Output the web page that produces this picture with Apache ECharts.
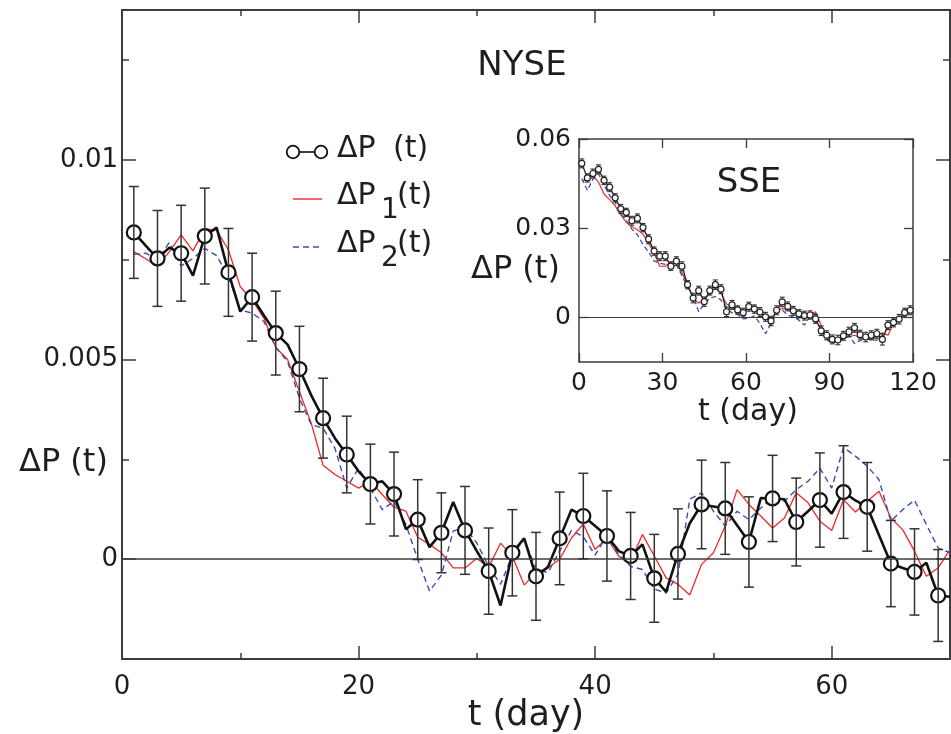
<!DOCTYPE html>
<html><head><meta charset="utf-8">
<script src="https://cdn.jsdelivr.net/npm/echarts@6/dist/echarts.min.js"></script>
<style>html,body{margin:0;padding:0;background:#fff}#c{width:951px;height:734px}</style>
</head><body><div id="c"></div>
<script>
// ---------------- NYSE (main panel) ----------------
const nyseDays = [1,2,3,4,5,6,7,8,9,10,11,12,13,14,15,16,17,18,19,20,21,22,23,24,25,26,27,28,29,30,31,32,33,34,35,36,37,38,39,40,41,42,43,44,45,46,47,48,49,50,51,52,53,54,55,56,57,58,59,60,61,62,63,64,65,66,67,68,69,70];
const nyseDP = [0.00818,0.00785,0.00753,0.0078,0.00766,0.0071,0.00809,0.0083,0.00718,0.0062,
  0.00656,0.0061,0.00566,0.00537,0.00476,0.0041,0.00353,0.00303,0.00262,0.0022,
  0.00188,0.00195,0.00163,0.00075,0.00099,0.0003,0.00066,0.00143,0.00072,0.0002,
  -0.0003,-0.00116,0.00016,0.00052,-0.00043,-0.0002,0.00052,0.00124,0.00108,0.00083,
  0.00058,0.0002,0.00008,0.00037,-0.00048,-0.00082,0.00013,0.0009,0.00137,0.00132,
  0.00127,0.00085,0.00043,0.00153,0.00152,0.0015,0.00093,0.0012,0.00148,0.00114,
  0.00168,0.00147,0.00131,0.0006,-0.00011,-0.00022,-0.00032,-0.00009,-0.00091,-0.00094];
const nyseDP1 = [0.0077,0.00752,0.00733,0.0077,0.00812,0.00772,0.00827,0.00824,0.00774,0.00682,
  0.00649,0.00603,0.0053,0.005,0.0042,0.0034,0.00235,0.00212,0.00195,0.00178,
  0.00195,0.00162,0.0013,0.0012,0.00055,0.00037,0.00016,-0.00022,-0.00022,0.00002,
  -0.0002,0.0004,0.00007,-0.00065,-0.00033,-0.00022,0,0.00053,0.00088,0.00024,
  0.00053,0.00007,-0.00005,0.00062,0.00008,-0.00047,-0.00063,-0.0009,-0.00013,0.00016,
  0.00083,0.00174,0.00137,0.00108,0.00078,0.00103,0.00166,0.00141,0.00095,0.00072,
  0.00149,0.00118,0.00145,0.0017,0.00103,0.00074,0.0002,-0.00043,-0.00022,0.00024];
const nyseDP2 = [0.00763,0.00766,0.0075,0.00793,0.00734,0.00753,0.00778,0.0076,0.00707,0.00624,
  0.00616,0.00595,0.0053,0.00495,0.00403,0.00337,0.00328,0.00278,0.00178,0.00228,
  0.00178,0.00124,0.00145,0.00087,0,-0.0008,-0.0004,0.0007,0.0008,0.0004,
  -0.00018,-0.00063,0.0001,0.0005,-0.00025,-0.00034,0.0002,0.00072,0.00056,0.0001,
  0.0006,0.0001,-0.00018,-0.00026,-0.00075,-0.00085,-0.00038,0.0015,0.00166,0.0012,
  0.00083,0.0012,0.00099,0.00128,0.00153,0.00145,0.00174,0.00195,0.00228,0.00178,
  0.0028,0.00258,0.00233,0.00199,0.00095,0.00124,0.00148,0.00087,0.00028,0.00016];
const nyseMarkDays = [1,3,5,7,9,11,13,15,17,19,21,23,25,27,29,31,33,35,37,39,41,43,45,47,49,51,53,55,57,59,61,63,65,67,69];
const nyseErr = [0.00115,0.0012,0.0012,0.0012,0.0011,0.0011,0.00105,0.00107,0.001,0.00096,
  0.001,0.00105,0.001,0.001,0.0011,0.00108,0.00108,0.0011,0.00116,0.00107,
  0.00113,0.00109,0.0011,0.00113,0.00111,0.00115,0.00113,0.00108,0.0011,0.00118,
  0.00116,0.00111,0.00108,0.00108,0.00115];
const nyseXTicks = [0,20,40,60];
const nyseXMinor = [10,30,50,70];
const nyseYTicks = [0,0.005,0.01];
const nyseYMinor = [0.0025,0.0075,0.0125];

// ---------------- SSE (inset) ----------------
const sseDays = [1,3,5,7,9,11,13,15,17,19,21,23,25,27,29,31,33,35,37,39,41,43,45,47,49,51,53,55,57,59,61,63,65,67,69,71,73,75,77,79,81,83,85,87,89,91,93,95,97,99,101,103,105,107,109,111,113,115,117,119];
const sseDP = [0.0518,0.0469,0.0484,0.0498,0.0461,0.0438,0.0402,0.0365,0.0353,0.0325,
  0.0333,0.0302,0.0263,0.0223,0.0206,0.0206,0.0172,0.0189,0.0172,0.011,
  0.0065,0.009,0.0053,0.009,0.011,0.0095,0.0019,0.0042,0.0025,0.0016,
  0.0036,0.0028,0.0018,0.0002,-0.0012,0.0024,0.0052,0.0037,0.0022,0.0012,
  0.0006,0.0008,-0.0005,-0.0045,-0.006,-0.0074,-0.0076,-0.0062,-0.0049,-0.0035,
  -0.0058,-0.0066,-0.006,-0.0055,-0.0074,-0.0026,-0.0017,-0.0006,0.0016,0.0024];
const sseDP1 = [0.046,0.0462,0.0476,0.0455,0.0415,0.0396,0.0375,0.0345,0.032,0.0305,
  0.0295,0.028,0.025,0.0215,0.0172,0.0172,0.0188,0.0185,0.015,0.011,
  0.0065,0.0048,0.006,0.0085,0.0099,0.0082,0.0045,0.0035,0.002,0.0019,
  0.003,0.0025,0.0018,-0.0005,-0.0012,0.0022,0.003,0.0025,0.0018,0.0008,
  0.0004,0.0012,0.0019,-0.0026,-0.0062,-0.0078,-0.0082,-0.0071,-0.0065,-0.006,
  -0.0068,-0.0072,-0.0076,-0.0062,-0.0052,-0.006,-0.002,-0.001,0.0018,0.0035];
const sseDP2 = [0.0467,0.0427,0.0465,0.0483,0.0445,0.041,0.0387,0.035,0.0325,0.0297,
  0.0278,0.0245,0.022,0.019,0.0182,0.0178,0.0175,0.0178,0.014,0.0102,
  0.0075,0.0019,0.0045,0.0065,0.007,0.0059,0.0031,0.0015,0.001,-0.0005,
  -0.0003,0.0005,-0.002,-0.0055,-0.002,0.0014,0.0025,0.0008,0.0002,-0.0009,
  -0.0026,0.0005,0.0014,-0.0045,-0.0075,-0.0088,-0.0077,-0.0072,-0.006,-0.0088,
  -0.0078,-0.0071,-0.0075,-0.0077,-0.006,-0.0035,-0.0015,-0.0008,0.0005,0.0025];
const sseErr = [0.0015,0.0014,0.0015,0.0015,0.0014,0.0015,0.0014,0.0015,0.0014,0.0015,
  0.0015,0.0014,0.0015,0.0014,0.0015,0.0015,0.0014,0.0015,0.0015,0.0014,
  0.0016,0.0015,0.0016,0.0015,0.0016,0.0015,0.0016,0.0015,0.0014,0.0015,
  0.0015,0.0014,0.0015,0.0015,0.0016,0.0015,0.0016,0.0015,0.0015,0.0014,
  0.0015,0.0014,0.0015,0.0016,0.0015,0.0015,0.0016,0.0015,0.0016,0.0015,
  0.0015,0.0016,0.0015,0.0015,0.0019,0.0015,0.0015,0.0016,0.0015,0.0015];
const sseXTicks = [0,30,60,90,120];
const sseYTicks = [0,0.03,0.06];

// ---------------- helpers ----------------
const FONT = 'DejaVu Sans';
const TXT = '#1e1e1e';
const FRAME = '#3c3c3c';
const zip = (xs, ys) => xs.map((x, i) => [x, ys[i]]);
const pick = (days, vals, sel) => sel.map(d => [d, vals[days.indexOf(d)]]);
const errData = (days, vals, sel, err) => sel.map((d, i) => {
  const v = vals[days.indexOf(d)];
  return [d, v - err[i], v + err[i]];
});

function errRender(cap, width) {
  return function (params, api) {
    const x = api.value(0);
    const lo = api.coord([x, api.value(1)]);
    const hi = api.coord([x, api.value(2)]);
    const st = { stroke: '#333', lineWidth: width };
    return { type: 'group', children: [
      { type: 'line', shape: { x1: hi[0], y1: hi[1], x2: lo[0], y2: lo[1] }, style: st },
      { type: 'line', shape: { x1: hi[0] - cap, y1: hi[1], x2: hi[0] + cap, y2: hi[1] }, style: st },
      { type: 'line', shape: { x1: lo[0] - cap, y1: lo[1], x2: lo[0] + cap, y2: lo[1] }, style: st }
    ]};
  };
}

function frameAxis(o) {
  return {
    type: 'value', gridIndex: o.grid, position: o.pos, min: o.min, max: o.max,
    silent: true,
    axisLine: { show: o.line !== false, onZero: false, lineStyle: { color: FRAME, width: o.lw || 2 } },
    axisTick: { show: true, inside: true, length: o.tickLen, customValues: o.ticks,
      lineStyle: { color: FRAME, width: o.tw || 1.5 } },
    axisLabel: o.labels ? { show: true, customValues: o.labels, fontSize: o.fs || 26, fontFamily: FONT,
      color: TXT, margin: o.margin } : { show: false },
    splitLine: { show: false }
  };
}

const xAxes = [
  frameAxis({grid:0,pos:'bottom',min:0,max:70,ticks:nyseXTicks,tickLen:13,labels:nyseXTicks,margin:15,fs:26}),
  frameAxis({grid:0,pos:'bottom',min:0,max:70,ticks:nyseXMinor,tickLen:6,line:false}),
  frameAxis({grid:0,pos:'top',min:0,max:70,ticks:nyseXTicks,tickLen:13}),
  frameAxis({grid:0,pos:'top',min:0,max:70,ticks:nyseXMinor,tickLen:6,line:false}),
  frameAxis({grid:1,pos:'bottom',min:0,max:120,ticks:sseXTicks,tickLen:9,labels:sseXTicks,margin:9,lw:1.5,tw:1.3,fs:25}),
  frameAxis({grid:1,pos:'top',min:0,max:120,ticks:sseXTicks,tickLen:9,lw:1.5,tw:1.3})
];
const yAxes = [
  frameAxis({grid:0,pos:'left',min:-0.0025,max:0.01375,ticks:nyseYTicks,tickLen:14,labels:nyseYTicks,margin:4,fs:26}),
  frameAxis({grid:0,pos:'left',min:-0.0025,max:0.01375,ticks:nyseYMinor,tickLen:7,line:false}),
  frameAxis({grid:0,pos:'right',min:-0.0025,max:0.01375,ticks:nyseYTicks,tickLen:14}),
  frameAxis({grid:0,pos:'right',min:-0.0025,max:0.01375,ticks:nyseYMinor,tickLen:7,line:false}),
  frameAxis({grid:1,pos:'left',min:-0.015,max:0.06,ticks:sseYTicks,tickLen:9,labels:sseYTicks,margin:8,lw:1.5,tw:1.3,fs:25}),
  frameAxis({grid:1,pos:'right',min:-0.015,max:0.06,ticks:sseYTicks,tickLen:9,lw:1.5,tw:1.3})
];

const zeroLine = (xi, yi, w) => ({
  type: 'line', xAxisIndex: xi, yAxisIndex: yi, data: [], z: 6, silent: true,
  markLine: { silent: true, symbol: ['none', 'none'], label: { show: false },
    lineStyle: { color: FRAME, width: w, type: 'solid' }, data: [{ yAxis: 0 }] }
});

const series = [
  // main
  { type:'line', xAxisIndex:0, yAxisIndex:0, data: zip(nyseDays, nyseDP1), symbol:'none', z:2,
    lineStyle:{ color:'#f02a2a', width:1.3 } },
  { type:'line', xAxisIndex:0, yAxisIndex:0, data: zip(nyseDays, nyseDP2), symbol:'none', z:2,
    lineStyle:{ color:'#3a4db0', width:1.4, type:[6,4] } },
  { type:'line', xAxisIndex:0, yAxisIndex:0, data: zip(nyseDays, nyseDP), symbol:'none', z:3,
    lineStyle:{ color:'#111', width:2.6 } },
  { type:'scatter', xAxisIndex:0, yAxisIndex:0, data: pick(nyseDays, nyseDP, nyseMarkDays), z:4,
    symbol:'circle', symbolSize:14, itemStyle:{ color:'#fff', borderColor:'#111', borderWidth:2.2, opacity:1 } },
  { type:'custom', xAxisIndex:0, yAxisIndex:0, data: errData(nyseDays, nyseDP, nyseMarkDays, nyseErr), z:5,
    renderItem: errRender(5, 1.5), encode:{ x:0, y:[1,2] } },
  zeroLine(0, 0, 1.6),
  // inset
  { type:'line', xAxisIndex:4, yAxisIndex:4, data: zip(sseDays, sseDP1), symbol:'none', z:2,
    lineStyle:{ color:'#f02a2a', width:1.2 } },
  { type:'line', xAxisIndex:4, yAxisIndex:4, data: zip(sseDays, sseDP2), symbol:'none', z:2,
    lineStyle:{ color:'#3a4db0', width:1.3, type:[5,3] } },
  { type:'line', xAxisIndex:4, yAxisIndex:4, data: zip(sseDays, sseDP), symbol:'none', z:3,
    lineStyle:{ color:'#222', width:1.3 } },
  { type:'custom', xAxisIndex:4, yAxisIndex:4, data: errData(sseDays, sseDP, sseDays, sseErr), z:4,
    renderItem: errRender(2.5, 1.1), encode:{ x:0, y:[1,2] } },
  { type:'scatter', xAxisIndex:4, yAxisIndex:4, data: zip(sseDays, sseDP), z:5,
    symbol:'circle', symbolSize:6, itemStyle:{ color:'#fff', borderColor:'#222', borderWidth:1.2, opacity:1 } },
  zeroLine(4, 4, 1.2)
];

const txt = (text, x, y, size, align) => ({
  type:'text', x:x, y:y, z:100, silent:true,
  style:{ text:text, fontSize:size, fontFamily:FONT, fill:TXT,
    textAlign: align || 'left', textVerticalAlign:'middle' }
});

const graphic = [
  txt('NYSE', 522, 66, 34, 'center'),
  txt('SSE', 749, 183, 34, 'center'),
  txt('t (day)', 526, 716, 35, 'center'),
  txt('ΔP (t)', 19, 463, 32, 'left'),
  txt('t (day)', 748, 412, 30, 'center'),
  txt('ΔP (t)', 471, 270, 32, 'left'),
  // legend row 1
  { type:'line', z:100, silent:true, shape:{ x1:293, y1:152, x2:321, y2:152 }, style:{ stroke:'#111', lineWidth:1.6 } },
  { type:'circle', z:101, silent:true, shape:{ cx:293, cy:152, r:6.3 }, style:{ stroke:'#111', fill:'#fff', lineWidth:1.8 } },
  { type:'circle', z:101, silent:true, shape:{ cx:321, cy:152, r:6.3 }, style:{ stroke:'#111', fill:'#fff', lineWidth:1.8 } },
  txt('ΔP', 337, 149, 30),
  txt('(t)', 393, 149, 30),
  // legend row 2
  { type:'line', z:100, silent:true, shape:{ x1:293, y1:199, x2:322, y2:199 }, style:{ stroke:'#f02a2a', lineWidth:1.4 } },
  txt('ΔP', 337, 196, 30),
  txt('1', 381, 211, 28),
  txt('(t)', 397, 196, 30),
  // legend row 3
  { type:'line', z:100, silent:true, shape:{ x1:293, y1:247, x2:322, y2:247 }, style:{ stroke:'#3a4db0', lineWidth:1.4, lineDash:[6,4] } },
  txt('ΔP', 337, 244, 30),
  txt('2', 381, 259, 28),
  txt('(t)', 397, 244, 30)
];

const chart = echarts.init(document.getElementById('c'), null, { renderer:'canvas' });
chart.setOption({
  animation: false,
  backgroundColor: '#fff',
  grid: [
    { left:122, top:10, right:1, bottom:75, containLabel:false },
    { left:579, top:139, width:334, height:223, show:true, backgroundColor:'#fff', borderWidth:0, containLabel:false }
  ],
  xAxis: xAxes,
  yAxis: yAxes,
  series: series,
  graphic: graphic
});
</script>
</body></html>
